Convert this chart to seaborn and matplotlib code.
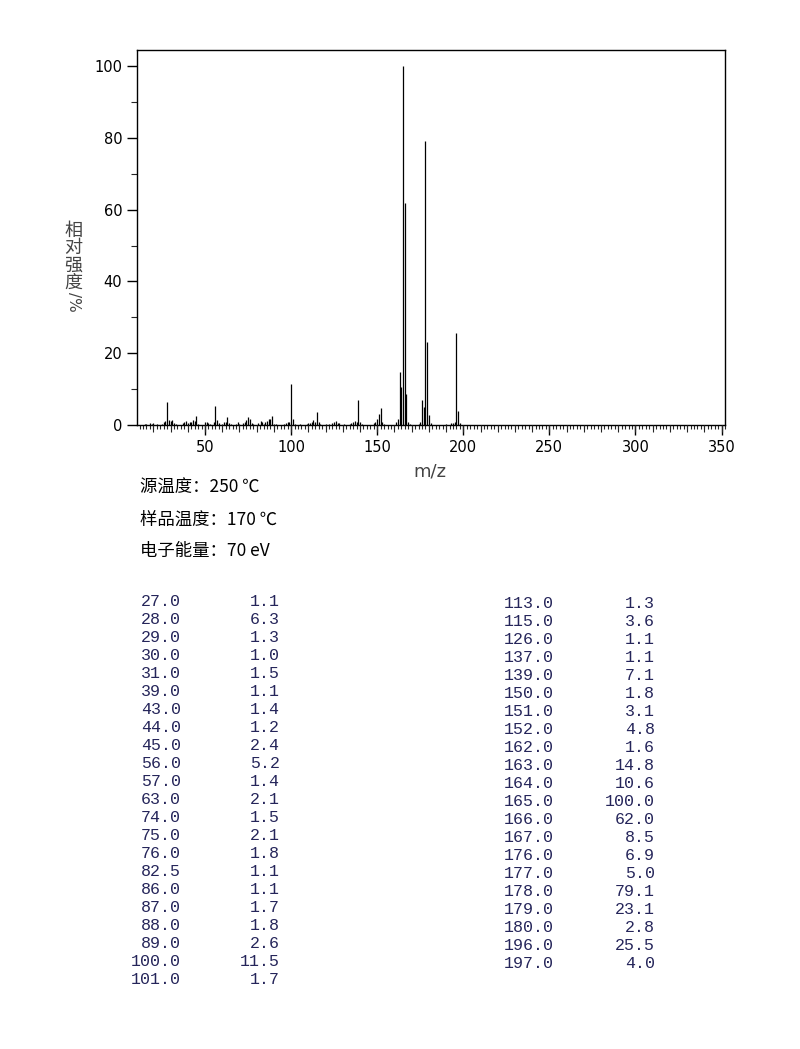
import matplotlib
matplotlib.use("Agg")
import matplotlib.pyplot as plt
from matplotlib.ticker import MultipleLocator
import seaborn as sns

# 质谱峰（表中所列，>=1%）
mz_main = [27.0, 28.0, 29.0, 30.0, 31.0, 39.0, 43.0, 44.0, 45.0, 56.0, 57.0,
           63.0, 74.0, 75.0, 76.0, 82.5, 86.0, 87.0, 88.0, 89.0, 100.0, 101.0,
           113.0, 115.0, 126.0, 137.0, 139.0, 150.0, 151.0, 152.0, 162.0, 163.0,
           164.0, 165.0, 166.0, 167.0, 176.0, 177.0, 178.0, 179.0, 180.0, 196.0, 197.0]
int_main = [1.1, 6.3, 1.3, 1.0, 1.5, 1.1, 1.4, 1.2, 2.4, 5.2, 1.4,
            2.1, 1.5, 2.1, 1.8, 1.1, 1.1, 1.7, 1.8, 2.6, 11.5, 1.7,
            1.3, 3.6, 1.1, 1.1, 7.1, 1.8, 3.1, 4.8, 1.6, 14.8,
            10.6, 100.0, 62.0, 8.5, 6.9, 5.0, 79.1, 23.1, 2.8, 25.5, 4.0]

# 图中的小峰（<1%，目测估计）
mz_minor = [15, 16, 18, 19, 20, 22, 25, 26, 32, 33, 37, 38, 40, 41, 42, 46, 50, 51,
            52, 53, 55, 58, 60, 61, 62, 64, 65, 68, 69, 70, 72, 73, 77, 78, 81, 83,
            84, 85, 90, 91, 96, 97, 98, 99, 102, 105, 109, 110, 111, 112, 114, 116,
            117, 120, 122, 124, 125, 127, 128, 131, 134, 135, 136, 138, 140, 141,
            148, 149, 153, 154, 161, 168, 169, 174, 175, 181, 190, 193, 194, 195, 198]
int_minor = [0.3, 0.4, 0.5, 0.3, 0.6, 0.4, 0.3, 0.8, 0.6, 0.4, 0.5, 0.8, 0.6, 0.9, 0.7,
             0.3, 0.9, 0.9, 0.5, 0.4, 0.7, 0.5, 0.4, 0.8, 0.9, 0.6, 0.4, 0.4, 0.7, 0.4,
             0.6, 0.9, 0.6, 0.4, 0.5, 0.8, 0.4, 0.7, 0.4, 0.3, 0.4, 0.6, 0.8, 0.9, 0.4,
             0.3, 0.4, 0.6, 0.6, 0.9, 0.7, 0.9, 0.4, 0.4, 0.3, 0.5, 0.8, 0.6, 0.6, 0.3,
             0.4, 0.6, 0.9, 0.9, 0.8, 0.4, 0.5, 0.9, 0.8, 0.4, 0.9, 0.9, 0.3, 0.4, 0.9,
             0.6, 0.3, 0.5, 0.6, 0.9, 0.6]

info_lines = ["源温度：250 ℃", "样品温度：170 ℃", "电子能量：70 eV"]

sns.set_theme(style="ticks")
plt.rcParams['font.family'] = ['DejaVu Sans', 'Noto Sans CJK SC']
plt.rcParams['axes.unicode_minus'] = False

fig = plt.figure(figsize=(8, 10.49), dpi=100)
ax = fig.add_axes([137/800, 1-425/1049, (725-137)/800, (425-50)/1049])

ax.vlines(mz_minor, 0, int_minor, color='black', linewidth=0.9)
ax.vlines(mz_main, 0, int_main, color='black', linewidth=0.9)

ax.set_xlim(10.5, 352)
ax.set_ylim(0, 104.5)
ax.xaxis.set_major_locator(MultipleLocator(50))
ax.xaxis.set_minor_locator(MultipleLocator(2))
ax.yaxis.set_major_locator(MultipleLocator(20))
ax.yaxis.set_minor_locator(MultipleLocator(10))
ax.tick_params(axis='both', which='major', length=7, width=1, labelsize=10.5,
               colors='black', direction='out')
ax.tick_params(axis='x', which='minor', length=3, width=0.8, direction='out')
ax.tick_params(axis='y', which='minor', length=4, width=0.8, direction='out')
ax.set_xticks(range(50, 351, 50))
ax.set_yticks(range(0, 101, 20))
ax.set_xticklabels([str(v) for v in range(50, 351, 50)], family='DejaVu Sans')
ax.set_yticklabels([str(v) for v in range(0, 101, 20)], family='DejaVu Sans')
for s in ax.spines.values():
    s.set_linewidth(1)
    s.set_color('black')

# 每10单位的中等刻度
ax2 = ax.twiny()
ax2.set_xlim(ax.get_xlim())
ax2.xaxis.set_ticks_position('bottom')
ax2.xaxis.set_major_locator(MultipleLocator(10))
ax2.tick_params(axis='x', length=5, width=0.8, labelbottom=False, labeltop=False)
for s in ax2.spines.values():
    s.set_visible(False)

# 坐标轴标题
fig.text(430/800, 1-472/1049, "m/z", ha='center', va='center', fontsize=13,
         family='DejaVu Sans', color='#444444')
ylab = "相\n对\n强\n度"
fig.text(73/800, 1-257/1049, ylab, ha='center', va='center', fontsize=13,
         family=['Noto Sans CJK SC'], color='#444444', linespacing=0.95)
fig.text(74/800, 1-302/1049, "/%", ha='center', va='center', fontsize=11,
         rotation=-90, family='DejaVu Sans', color='#444444')

for i, line in enumerate(info_lines):
    fig.text(140/800, 1-(488 + i*31.5)/1049, line, ha='left', va='center',
             fontsize=12.5, family=['Noto Sans CJK SC', 'DejaVu Sans'], color='black')

# 峰表
tcolor = '#25255a'
n_left = 22
for i in range(len(mz_main)):
    if i < n_left:
        y = 601 + i*18
        xm, xi = 181, 280
    else:
        y = 603 + (i-n_left)*18
        xm, xi = 554, 655
    fig.text(xm/800, 1-y/1049, f"{mz_main[i]:.1f}", ha='right', va='center',
             fontsize=12, family='Liberation Mono', color=tcolor)
    fig.text(xi/800, 1-y/1049, f"{int_main[i]:.1f}", ha='right', va='center',
             fontsize=12, family='Liberation Mono', color=tcolor)

fig.savefig('out.png', dpi=100, facecolor='white')
